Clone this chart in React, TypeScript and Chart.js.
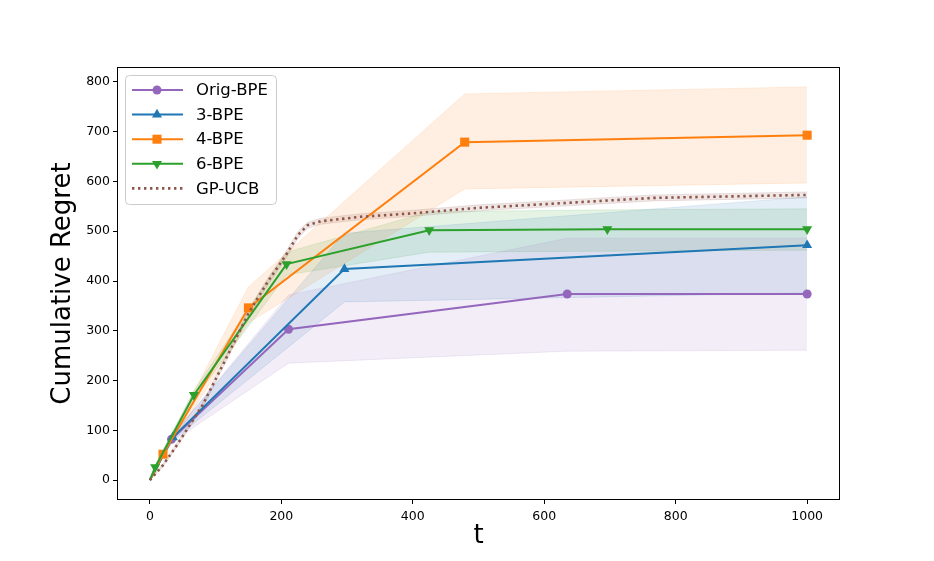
import { useEffect, useRef } from 'react';
import { Chart, registerables } from 'chart.js';
import { drawPoint } from 'chart.js/helpers';

Chart.register(...registerables);
Chart.defaults.font.family = '"DejaVu Sans", sans-serif';

// Orig-BPE
const origT = [0, 33, 211, 635, 1000];
const origMean = [0, 82, 303, 374, 374];
const origUpper = [0, 88, 372, 486, 486];
const origLower = [0, 76, 235, 259, 261];

// 3-BPE
const bpe3T = [0, 35, 296, 1000];
const bpe3Mean = [0, 86, 424, 472];
const bpe3Upper = [0, 92, 496, 569];
const bpe3Lower = [0, 80, 358, 376];

// 4-BPE
const bpe4T = [0, 20, 150, 479, 1000];
const bpe4Mean = [0, 52, 346, 679, 693];
const bpe4Upper = [0, 58, 388, 776, 790];
const bpe4Lower = [0, 46, 316, 585, 597];

// 6-BPE
const bpe6T = [0, 8, 67, 208, 425, 696, 1000];
const bpe6Mean = [0, 26, 171, 434, 502, 504, 504];
const bpe6Upper = [0, 30, 180, 458, 539, 543, 545];
const bpe6Lower = [0, 22, 162, 412, 458, 460, 462];

// GP-UCB
const gpT = [0, 20, 40, 80, 120, 150, 180, 207, 225, 240, 260, 320, 400, 500, 635, 766, 1000];
const gpMean = [0, 30, 68, 150, 255, 335, 400, 452, 492, 512, 520, 529, 536, 547, 557, 567, 573];
const gpUpper = [0, 33, 72, 155, 261, 342, 407, 459, 499, 518, 526, 535, 542, 553, 563, 573, 579];
const gpLower = [0, 27, 64, 145, 249, 328, 393, 445, 485, 506, 514, 523, 530, 541, 551, 561, 567];

const xTicks = [0, 200, 400, 600, 800, 1000];
const yTicks = [0, 100, 200, 300, 400, 500, 600, 700, 800];

const PURPLE = '#9467bd';
const BLUE = '#1f77b4';
const ORANGE = '#ff7f0e';
const GREEN = '#2ca02c';
const BROWN = '#8c564b';

const rgba = (hex: string, a: number) => {
  const n = parseInt(hex.slice(1), 16);
  return `rgba(${(n >> 16) & 255},${(n >> 8) & 255},${n & 255},${a})`;
};

const pts = (t: number[], v: number[]) => t.map((x, i) => ({ x, y: v[i] }));

const band = (t: number[], up: number[], lo: number[], color: string, alpha: number) => [
  {
    label: '_up',
    data: pts(t, up),
    borderColor: rgba(color, alpha),
    borderWidth: 1,
    backgroundColor: rgba(color, alpha),
    pointRadius: 0,
    fill: false,
    order: 10,
  },
  {
    label: '_lo',
    data: pts(t, lo),
    borderColor: rgba(color, alpha),
    borderWidth: 1,
    backgroundColor: rgba(color, alpha),
    pointRadius: 0,
    fill: '-1',
    order: 10,
  },
];

const line = (label: string, t: number[], v: number[], color: string, style: string, r: number, rot: number, order: number) => ({
  label,
  data: pts(t, v),
  borderColor: color,
  backgroundColor: color,
  borderWidth: 2,
  pointStyle: style,
  rotation: rot,
  pointRadius: (c: any) => (c.dataIndex === 0 ? 0 : r),
  pointBorderWidth: 0,
  pointBackgroundColor: color,
  fill: false,
  order,
});

const legendItems = [
  { label: 'Orig-BPE', color: PURPLE, style: 'circle', r: 4.5, rot: 0, dash: false },
  { label: '3-BPE', color: BLUE, style: 'triangle', r: 5.8, rot: 0, dash: false },
  { label: '4-BPE', color: ORANGE, style: 'rect', r: 6.4, rot: 0, dash: false },
  { label: '6-BPE', color: GREEN, style: 'triangle', r: 5.8, rot: 180, dash: false },
  { label: 'GP-UCB', color: BROWN, style: '', r: 0, rot: 0, dash: true },
];

const framePlugin = {
  id: 'frameAndLegend',
  afterDraw(chart: any) {
    const ctx = chart.ctx as CanvasRenderingContext2D;
    const { left, top, right, bottom } = chart.chartArea;
    ctx.save();
    ctx.strokeStyle = '#000';
    ctx.lineWidth = 1;
    ctx.strokeRect(left + 0.5, top + 0.5, right - left - 1, bottom - top - 1);

    const bx = left + 8;
    const by = top + 8;
    ctx.beginPath();
    ctx.roundRect(bx + 0.5, by + 0.5, 151, 129, 4);
    ctx.fillStyle = 'rgba(255,255,255,0.8)';
    ctx.fill();
    ctx.strokeStyle = '#cccccc';
    ctx.stroke();

    legendItems.forEach((it, i) => {
      const y = by + 15 + i * 24.6;
      ctx.beginPath();
      ctx.strokeStyle = it.color;
      if (it.dash) {
        ctx.lineWidth = 2.6;
        ctx.setLineDash([2.4, 3.6]);
      } else {
        ctx.lineWidth = 2;
        ctx.setLineDash([]);
      }
      ctx.moveTo(bx + 7, y);
      ctx.lineTo(bx + 58, y);
      ctx.stroke();
      ctx.setLineDash([]);
      if (it.style) {
        ctx.fillStyle = it.color;
        drawPoint(ctx, { pointStyle: it.style as any, radius: it.r, rotation: it.rot, borderWidth: 0 }, bx + 32, y);
      }
      ctx.fillStyle = '#000';
      ctx.font = '16.5px "DejaVu Sans"';
      ctx.textBaseline = 'middle';
      ctx.textAlign = 'left';
      ctx.fillText(it.label, bx + 71, y + 1);
    });
    ctx.restore();
  },
};

export default function App() {
  const canvasRef = useRef<HTMLCanvasElement>(null);

  useEffect(() => {
    document.body.style.margin = '0';
    if (!canvasRef.current) return;
    const chart = new Chart(canvasRef.current, {
      type: 'line',
      data: {
        datasets: [
          ...band(origT, origUpper, origLower, PURPLE, 0.12),
          ...band(bpe3T, bpe3Upper, bpe3Lower, BLUE, 0.12),
          ...band(bpe4T, bpe4Upper, bpe4Lower, ORANGE, 0.12),
          ...band(bpe6T, bpe6Upper, bpe6Lower, GREEN, 0.12),
          ...band(gpT, gpUpper, gpLower, BROWN, 0.14),
          line('Orig-BPE', origT, origMean, PURPLE, 'circle', 4.5, 0, 5),
          line('3-BPE', bpe3T, bpe3Mean, BLUE, 'triangle', 5.8, 0, 4),
          line('4-BPE', bpe4T, bpe4Mean, ORANGE, 'rect', 6.4, 0, 3),
          line('6-BPE', bpe6T, bpe6Mean, GREEN, 'triangle', 5.8, 180, 2),
          {
            label: 'GP-UCB',
            data: pts(gpT, gpMean),
            borderColor: BROWN,
            borderWidth: 2.6,
            borderDash: [2.4, 3.6],
            borderCapStyle: 'butt',
            pointRadius: 0,
            fill: false,
            order: 1,
          },
        ] as any,
      },
      options: {
        responsive: false,
        animation: false,
        events: [],
        layout: { padding: { top: 67, right: 94, left: 0, bottom: 0 } },
        elements: { line: { tension: 0 } },
        plugins: {
          legend: { display: false },
          tooltip: { enabled: false },
          filler: { drawTime: 'beforeDatasetsDraw' },
        },
        scales: {
          x: {
            type: 'linear',
            min: -50,
            max: 1050,
            afterBuildTicks: (s: any) => {
              s.ticks = xTicks.map((v) => ({ value: v }));
            },
            afterFit: (s: any) => {
              s.height = 61;
            },
            grid: { drawOnChartArea: false, drawTicks: true, tickLength: 4, color: '#000', tickColor: '#000' },
            border: { display: false },
            ticks: { color: '#000', font: { size: 12.5 }, padding: 5, maxRotation: 0, callback: (v: any) => String(v) },
            title: {
              display: true,
              text: 't',
              color: '#000',
              font: { size: 26, lineHeight: 1.2 },
              padding: { top: 0, bottom: 9 },
            },
          },
          y: {
            type: 'linear',
            min: -40,
            max: 830,
            afterBuildTicks: (s: any) => {
              s.ticks = yTicks.map((v) => ({ value: v }));
            },
            afterFit: (s: any) => {
              s.width = 117;
            },
            grid: { drawOnChartArea: false, drawTicks: true, tickLength: 4, color: '#000', tickColor: '#000' },
            border: { display: false },
            ticks: { color: '#000', font: { size: 12.5 }, padding: 3, callback: (v: any) => String(v) },
            title: {
              display: true,
              text: 'Cumulative Regret',
              color: '#000',
              font: { size: 26, lineHeight: 1.2 },
              padding: { top: 48, bottom: 0 },
            },
          },
        },
      },
      plugins: [framePlugin],
    });
    return () => chart.destroy();
  }, []);

  return (
    <div style={{ width: 934, height: 561, background: '#fff' }}>
      <canvas ref={canvasRef} width={934} height={561} />
    </div>
  );
}
